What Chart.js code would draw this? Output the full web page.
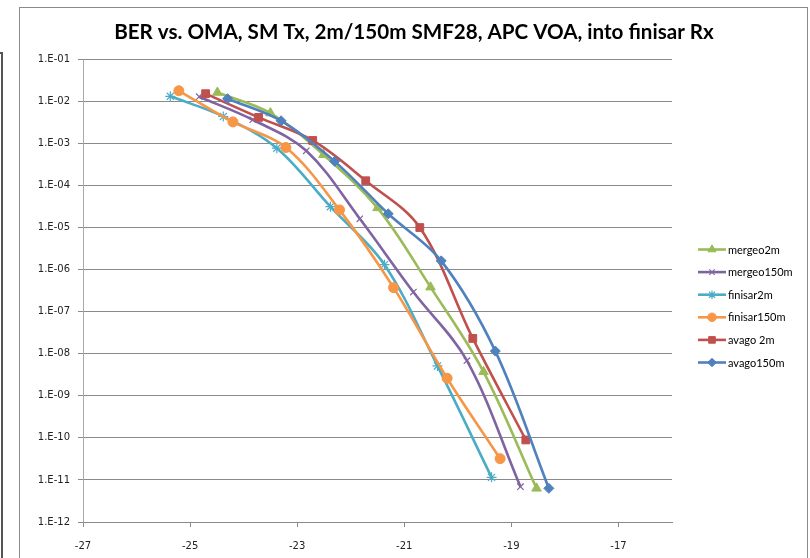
<!DOCTYPE html>
<html><head><meta charset="utf-8">
<script src="https://cdn.jsdelivr.net/npm/chart.js@4/dist/chart.umd.min.js"></script>
<style>html,body{margin:0;padding:0;background:#fff;overflow:hidden}#wrap{position:relative;width:810px;height:558px}</style>
</head><body><div id="wrap"><canvas id="c" width="810" height="558"></canvas></div>
<script>
const titleText = "BER vs. OMA, SM Tx, 2m/150m SMF28, APC VOA, into finisar Rx";
const seriesNames = ["mergeo2m", "mergeo150m", "finisar2m", "finisar150m", "avago 2m", "avago150m"];

const mergeo2mOMA   = [-24.49, -23.50, -22.51, -21.50, -20.51, -19.52, -18.53];
const mergeo2mBER   = [1.6e-2, 5.2e-3, 5.3e-4, 2.9e-5, 3.8e-7, 3.7e-9, 6.3e-12];
const mergeo150mOMA = [-24.83, -23.83, -22.83, -21.83, -20.83, -19.83, -18.83];
const mergeo150mBER = [1.27e-2, 3.6e-3, 6.6e-4, 1.6e-5, 2.9e-7, 6.8e-9, 6.9e-12];
const finisar2mOMA  = [-25.37, -24.38, -23.38, -22.38, -21.37, -20.38, -19.37];
const finisar2mBER  = [1.3e-2, 4.3e-3, 7.6e-4, 3.1e-5, 1.3e-6, 5.1e-9, 1.15e-11];
const finisar150mOMA = [-25.21, -24.20, -23.21, -22.21, -21.20, -20.20, -19.21];
const finisar150mBER = [1.76e-2, 3.2e-3, 7.9e-4, 2.6e-5, 3.7e-7, 2.6e-9, 3.2e-11];
const avago2mOMA    = [-24.71, -23.72, -22.71, -21.72, -20.71, -19.72, -18.73];
const avago2mBER    = [1.5e-2, 4.1e-3, 1.16e-3, 1.28e-4, 9.9e-6, 2.3e-8, 8.9e-11];
const avago150mOMA  = [-24.30, -23.30, -22.30, -21.30, -20.31, -19.30, -18.30];
const avago150mBER  = [1.14e-2, 3.4e-3, 3.7e-4, 2.1e-5, 1.6e-6, 1.15e-8, 6.3e-12];

const xTickValues = [-27, -25, -23, -21, -19, -17];
const yTickValues = [1e-12, 1e-11, 1e-10, 1e-9, 1e-8, 1e-7, 1e-6, 1e-5, 1e-4, 1e-3, 1e-2, 1e-1];

const colors = ["#9BBB59", "#8064A2", "#4BACC6", "#F79646", "#C0504D", "#4F81BD"];
const pointStyles = ["triangle", "crossRot", "star", "circle", "rect", "rectRot"];
const pointRadii = [5.5, 4.5, 5, 5, 5.5, 5];
const omaSets = [mergeo2mOMA, mergeo150mOMA, finisar2mOMA, finisar150mOMA, avago2mOMA, avago150mOMA];
const berSets = [mergeo2mBER, mergeo150mBER, finisar2mBER, finisar150mBER, avago2mBER, avago150mBER];

const datasets = seriesNames.map((name, i) => ({
  label: name,
  data: omaSets[i].map((x, j) => ({x: x, y: berSets[i][j]})),
  showLine: true,
  tension: 0.35,
  borderColor: colors[i],
  backgroundColor: colors[i],
  borderWidth: 2.6,
  pointStyle: pointStyles[i],
  pointRadius: pointRadii[i],
  pointBorderWidth: (pointStyles[i] === 'crossRot' || pointStyles[i] === 'star') ? 1.2 : 1,
  pointBorderColor: colors[i],
  pointBackgroundColor: colors[i],
  order: seriesNames.length - i
}));

const framePlugin = {
  id: 'frame',
  beforeDraw(chart) {
    const ctx = chart.ctx;
    ctx.save();
    ctx.fillStyle = '#fff';
    ctx.fillRect(0, 0, chart.width, chart.height);
    ctx.strokeStyle = '#8a8a8a';
    ctx.lineWidth = 1;
    ctx.strokeRect(19.5, 7.5, 788, 600);
    ctx.strokeStyle = '#555';
    ctx.lineWidth = 2;
    ctx.beginPath();
    ctx.moveTo(0, 53);
    ctx.lineTo(3, 53);
    ctx.moveTo(2, 53);
    ctx.lineTo(2, 560);
    ctx.stroke();
    ctx.restore();
  },
  afterDraw(chart) {
    const ctx = chart.ctx;
    ctx.save();
    ctx.fillStyle = '#000';
    ctx.font = 'bold 20.6px Lato';
    ctx.textAlign = 'center';
    ctx.textBaseline = 'middle';
    ctx.fillText(titleText, 414, 32);
    // legend
    const x0 = 698, x1 = 726, yStart = 249.5, step = 22.6;
    ctx.font = '11px Lato';
    ctx.textAlign = 'left';
    seriesNames.forEach((name, i) => {
      const y = yStart + i * step;
      ctx.strokeStyle = colors[i];
      ctx.fillStyle = colors[i];
      ctx.lineWidth = 2.6;
      ctx.beginPath();
      ctx.moveTo(x0, y);
      ctx.lineTo(x1, y);
      ctx.stroke();
      ctx.lineWidth = (pointStyles[i] === 'crossRot' || pointStyles[i] === 'star') ? 1.2 : 1;
      Chart.helpers.drawPoint(ctx, {pointStyle: pointStyles[i], radius: pointRadii[i] * 0.85, rotation: 0, borderWidth: ctx.lineWidth}, (x0 + x1) / 2, y);
      ctx.fillStyle = '#000';
      ctx.fillText(name, x1 + 2, y + 0.5);
    });
    ctx.restore();
  }
};

function fmtExp(v) {
  const e = Math.round(Math.log10(v));
  return '1.E' + (e < 0 ? '-' : '+') + String(Math.abs(e)).padStart(2, '0');
}

new Chart(document.getElementById('c'), {
  type: 'scatter',
  data: {datasets: datasets},
  plugins: [framePlugin],
  options: {
    responsive: false,
    animation: false,
    devicePixelRatio: 1,
    layout: {padding: {left: 0, top: 59, right: 138, bottom: 0}},
    plugins: {legend: {display: false}, title: {display: false}, tooltip: {enabled: false}},
    scales: {
      x: {
        type: 'linear',
        min: -27, max: -16,
        afterBuildTicks: s => { s.ticks = xTickValues.map(v => ({value: v})); },
        afterFit: s => { s.height = 36; },
        grid: {display: true, drawOnChartArea: false, drawTicks: true, tickLength: 5, color: '#8a8a8a'},
        border: {display: true, color: '#8a8a8a', width: 1},
        ticks: {padding: 13, color: '#222', font: {family: 'DejaVu Sans', size: 10}, maxRotation: 0, autoSkip: false, callback: v => String(v)}
      },
      y: {
        type: 'logarithmic',
        min: 1e-12, max: 1e-1,
        afterBuildTicks: s => { s.ticks = yTickValues.map(v => ({value: v})); },
        afterFit: s => { s.width = 83; },
        grid: {display: true, drawOnChartArea: true, drawTicks: true, tickLength: 5, color: '#8a8a8a'},
        border: {display: true, color: '#a8a8a8', width: 1},
        ticks: {padding: 8, color: '#222', font: {family: 'DejaVu Sans', size: 10}, autoSkip: false, callback: v => fmtExp(v)}
      }
    }
  }
});
</script>
</body></html>
